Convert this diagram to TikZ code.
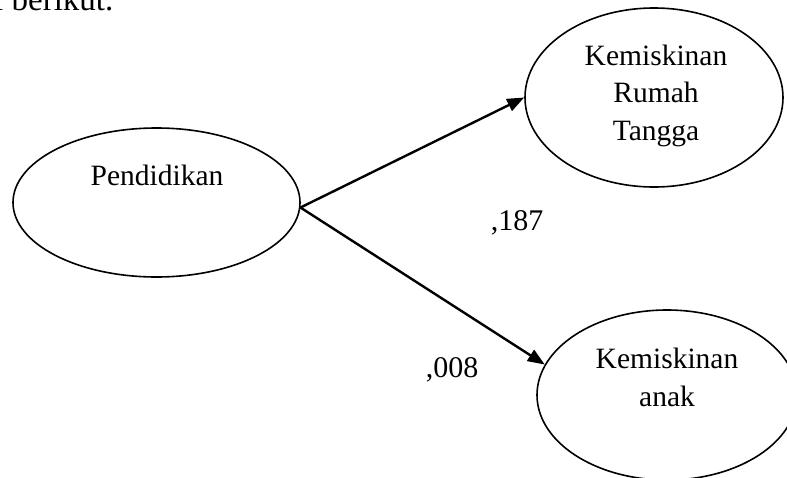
\documentclass[tikz,border=0pt]{standalone}
\usepackage{fontspec}
\setmainfont{Liberation Serif}
\usetikzlibrary{shapes.geometric,arrows.meta}
\tikzset{
  latent/.style={draw, ellipse, line width=1.6pt, inner sep=0pt},
  lbl/.style={font=\fontsize{29.5}{37.5}\selectfont, align=center, inner sep=0pt},
  coef/.style={font=\fontsize{30}{36}\selectfont, inner sep=0pt, anchor=base},
  path/.style={line width=2.4pt, -{Triangle[length=17pt,width=13pt]}}
}
\begin{document}
\begin{tikzpicture}[x=1pt,y=-1pt]
\clip (0,0) rectangle (787,477);
\fill[white] (0,0) rectangle (787,477);

% running text above the figure
\node[font=\fontsize{33}{40}\selectfont, anchor=base west, inner sep=0pt] (intro) at (-6,10) {i berikut.};

% latent variables
\node[latent, minimum width=287pt, minimum height=149pt] (pend) at (156.5,202.5) {};
\node[latent, minimum width=258pt, minimum height=179pt] (rt) at (654,97.5) {};
\node[latent, minimum width=260pt, minimum height=170pt] (anak) at (667,395) {};

% labels inside the ellipses
\node[lbl, anchor=base] (pendtxt) at (157,185) {Pendidikan};
\node[lbl] (rttxt) at (656,95.5) {Kemiskinan\\Rumah\\Tangga};
\node[lbl] (anaktxt) at (667,377.5) {Kemiskinan\\anak};

% paths with coefficients
\draw[path] (pend.-2) -- (rt.west);
\draw[path] (pend.-2) -- (anak.166);
\node[coef] (c1) at (517,230) {,187};
\node[coef] (c2) at (452,377) {,008};
\end{tikzpicture}
\end{document}
